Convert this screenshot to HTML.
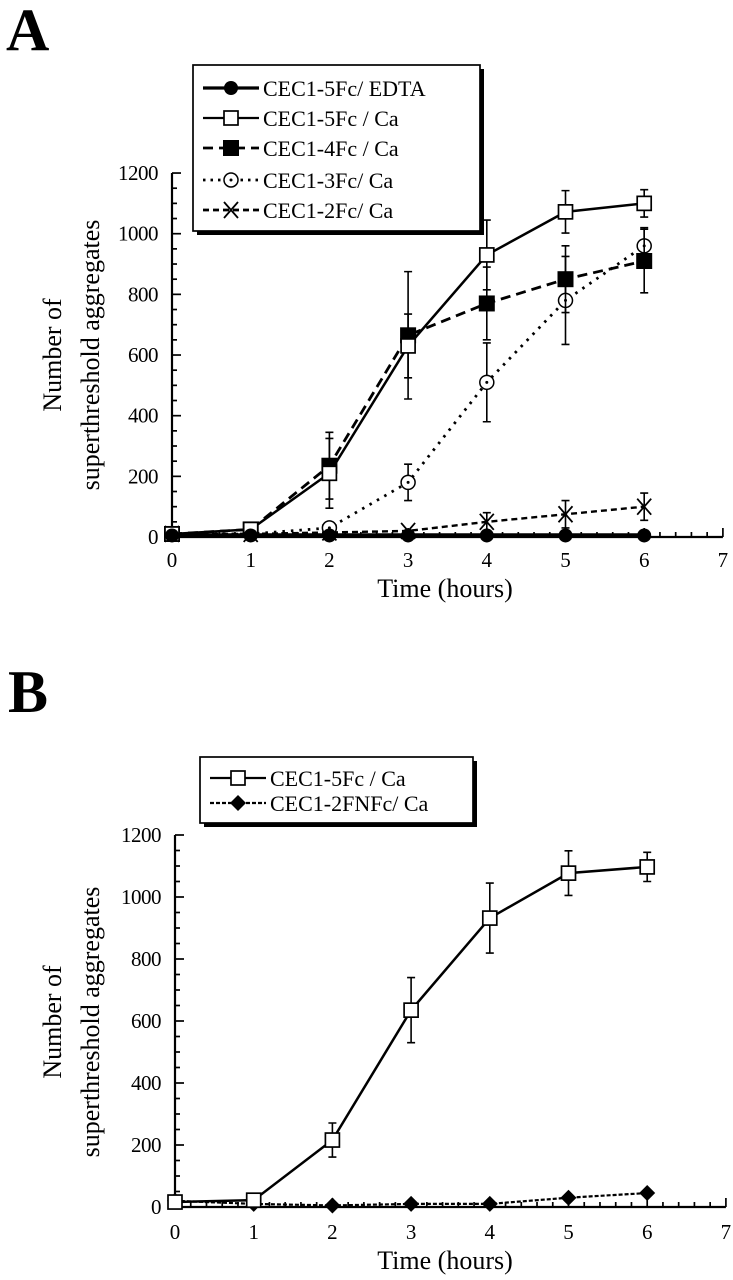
<!DOCTYPE html>
<html><head><meta charset="utf-8"><style>
body{margin:0;background:#fff;}
svg{display:block;font-family:"Liberation Serif",serif;}
</style></head><body>
<svg id="fig" width="733" height="1280" viewBox="0 0 733 1280">
<text x="6" y="50" font-size="60" font-weight="bold">A</text>
<text x="8" y="712" font-size="60" font-weight="bold">B</text>
</svg>
<script>
const hours=[0,1,2,3,4,5,6];
const xTicks=[0,1,2,3,4,5,6,7];
const yTicks=[0,200,400,600,800,1000,1200];
// Panel A
const a5Ca=[10,25,210,630,930,1072,1100];
const a5CaErr=[0,0,115,105,115,70,45];
const a4Ca=[10,25,235,665,770,850,910];
const a4CaErr=[0,0,110,210,120,110,105];
const a3Ca=[10,10,30,180,510,780,960];
const a3CaErr=[0,0,0,60,130,145,60];
const a2Ca=[10,10,15,20,50,75,100];
const a2CaErr=[0,0,0,0,30,45,45];
const a5Edta=[5,5,5,5,5,5,5];
// Panel B
const b5Ca=[16,22,216,635,932,1077,1097];
const b5CaErr=[0,0,55,105,113,72,47];
const b2FN=[20,10,5,10,10,30,45];

const NS="http://www.w3.org/2000/svg";
const svg=document.getElementById('fig');
function mk(tag,attrs,parent){const e=document.createElementNS(NS,tag);for(const k in attrs)e.setAttribute(k,attrs[k]);(parent||svg).appendChild(e);return e;}

function panel(P,id){
  const sx=v=>P.x0+v*P.kx, sy=v=>P.y0-v*P.ky;
  const g=mk('g',{});
  
  
  const ax=mk('path',{d:`M${sx(0)} ${sy(1200)} V${sy(0)} H${sx(7)}`,stroke:'#000','stroke-width':2.2,fill:'none'},g);
  
  
  for(let v=0;v<=1200;v+=50){const major=v%200===0;mk('line',{x1:sx(0),x2:sx(0)+(major?9:5),y1:sy(v),y2:sy(v),stroke:'#000','stroke-width':1.7},g);}
  for(let h=0;h<=7.001;h+=0.2){const major=Math.abs(h-Math.round(h))<0.01;mk('line',{x1:sx(h),x2:sx(h),y1:sy(0),y2:sy(0)-(major?9:5),stroke:'#000','stroke-width':1.7},g);}
  yTicks.forEach(v=>{const t=mk('text',{x:sx(0)-14,y:sy(v)+7,'text-anchor':'end','font-size':21,'letter-spacing':'-0.5'},g);t.textContent=v;
    });
  xTicks.forEach(h=>{const t=mk('text',{x:sx(h),y:sy(0)+P.xlOff,'text-anchor':'middle','font-size':21},g);t.textContent=h;
    });
  const xt=mk('text',{x:445,y:sy(0)+P.xtOff,'text-anchor':'middle','font-size':26},g);xt.textContent='Time (hours)';
  
  const yt=mk('text',{transform:`translate(61,${P.ytc}) rotate(-90)`,'text-anchor':'middle','font-size':26},g);yt.textContent='Number of';
  
  const yt2=mk('text',{transform:`translate(99,${P.ytc}) rotate(-90)`,'text-anchor':'middle','font-size':26},g);yt2.textContent='superthreshold aggregates';
  
  return {sx,sy,g};
}
function marker(type,x,y,parent){
  let e;
  if(type==='circle-fill')e=mk('circle',{cx:x,cy:y,r:7,fill:'#000'},parent);
  else if(type==='sq-open')e=mk('rect',{x:x-7,y:y-7,width:14,height:14,fill:'#fff',stroke:'#000','stroke-width':1.7},parent);
  else if(type==='sq-fill')e=mk('rect',{x:x-8,y:y-8,width:16,height:16,fill:'#000'},parent);
  else if(type==='circ-open'){e=mk('circle',{cx:x,cy:y,r:7,fill:'#fff',stroke:'#000','stroke-width':1.5},parent);mk('circle',{cx:x,cy:y,r:1.5,fill:'#000'},parent);}
  else if(type==='x'){e=mk('path',{d:`M${x-7} ${y-8}L${x+7} ${y+8}M${x+7} ${y-8}L${x-7} ${y+8}`,stroke:'#000','stroke-width':1.8},parent);}
  else if(type==='diamond')e=mk('path',{d:`M${x} ${y-8}L${x+8} ${y}L${x} ${y+8}L${x-8} ${y}Z`,fill:'#000'},parent);
  return e;
}
function series(A,vals,errs,type,dash,w,name){
  const g=mk('g',{},A.g);
  
  
  const pts=hours.map((h,i)=>A.sx(h)+','+A.sy(vals[i])).join(' ');
  mk('polyline',{points:pts,fill:'none',stroke:'#000','stroke-width':w,'stroke-dasharray':dash},g);
  if(errs)hours.forEach((h,i)=>{if(!errs[i])return;const x=A.sx(h),y1=A.sy(vals[i]+errs[i]),y2=A.sy(vals[i]-errs[i]);
    const eb=mk('path',{d:`M${x} ${y1}V${y2}M${x-4} ${y1}H${x+4}M${x-4} ${y2}H${x+4}`,stroke:'#000','stroke-width':1.6,fill:'none'},g);
    });
  hours.forEach((h,i)=>{const m=marker(type,A.sx(h),A.sy(vals[i]),g);
    });
}
function legend(x,y,w,h,rows,name){
  const g=mk('g',{});
  
  
  mk('rect',{x:x+4,y:y+4,width:w,height:h,fill:'#000'},g);
  mk('rect',{x:x,y:y,width:w,height:h,fill:'#fff',stroke:'#000','stroke-width':1.7},g);
  rows.forEach((r,i)=>{const yy=y+r.dy;
    const e=mk('g',{},g);
    
    
    mk('line',{x1:x+10,x2:x+66,y1:yy,y2:yy,stroke:'#000','stroke-width':r.w,'stroke-dasharray':r.dash},e);
    marker(r.type,x+38,yy,e);
    const t=mk('text',{x:x+70,y:yy+8,'font-size':22},e);t.textContent=r.label;});
}
const A=panel({x0:172,kx:78.7,y0:537,ky:0.3033,xlOff:30,xtOff:60,ytc:355},'panel-a');
series(A,a2Ca,a2CaErr,'x','6 4',2.4,'series-cec1-2fc-ca');
series(A,a3Ca,a3CaErr,'circ-open','2.5 6',2.8,'series-cec1-3fc-ca');
series(A,a4Ca,a4CaErr,'sq-fill','10 6',2.8,'series-cec1-4fc-ca');
series(A,a5Ca,a5CaErr,'sq-open','',2.5,'series-cec1-5fc-ca');
series(A,a5Edta,null,'circle-fill','',4.5,'series-cec1-5fc-edta');
legend(193,65,287,166,[
 {dy:23,type:'circle-fill',dash:'',w:3.2,label:'CEC1-5Fc/ EDTA'},
 {dy:53,type:'sq-open',dash:'',w:2.2,label:'CEC1-5Fc / Ca'},
 {dy:83,type:'sq-fill',dash:'10 6',w:2.8,label:'CEC1-4Fc / Ca'},
 {dy:115,type:'circ-open',dash:'2.5 5',w:2.8,label:'CEC1-3Fc/ Ca'},
 {dy:145,type:'x',dash:'6 4',w:2.8,label:'CEC1-2Fc/ Ca'}],'legend-a');
const B=panel({x0:175,kx:78.7,y0:1207,ky:0.31,xlOff:32,xtOff:62,ytc:1022},'panel-b');
series(B,b2FN,null,'diamond','4 2',2.2,'series-cec1-2fnfc-ca');
series(B,b5Ca,b5CaErr,'sq-open','',2.5,'series-cec1-5fc-ca-b');
legend(200,757,273,66,[
 {dy:21,type:'sq-open',dash:'',w:2.2,label:'CEC1-5Fc /  Ca'},
 {dy:46,type:'diamond',dash:'4 2',w:2.2,label:'CEC1-2FNFc/ Ca'}],'legend-b');
</script>
</body></html>
